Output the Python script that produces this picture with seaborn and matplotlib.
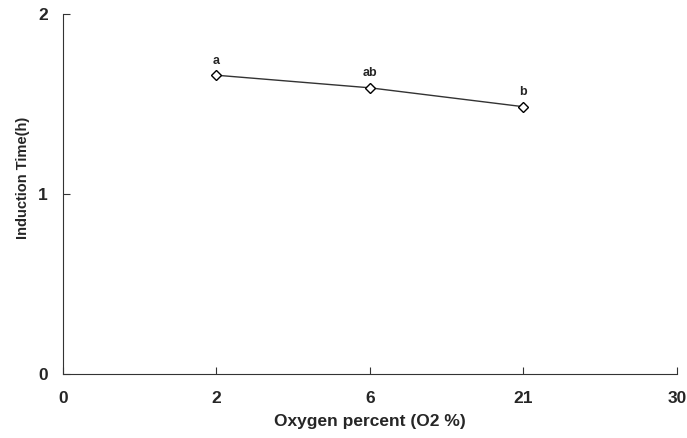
import pandas as pd
import matplotlib.pyplot as plt
import seaborn as sns

# data
tick_labels = ["0", "2", "6", "21", "30"]
oxygen = ["2", "6", "21"]
induction_time = [1.66, 1.59, 1.485]
letters = ["a", "ab", "b"]

sns.set_style("ticks")
plt.rcParams['font.family'] = ['Liberation Sans', 'DejaVu Sans']
plt.rcParams['font.weight'] = 'bold'

pos = [tick_labels.index(o) for o in oxygen]
df = pd.DataFrame({"pos": pos, "time": induction_time, "letter": letters})

fig = plt.figure(figsize=(6.87, 4.38), dpi=100)
ax = fig.add_axes([0.0917, 0.146, 0.8937, 0.822])

sns.lineplot(data=df, x="pos", y="time", ax=ax, color="#333333", linewidth=1,
             marker="D", markersize=5, markerfacecolor="white",
             markeredgecolor="black", markeredgewidth=1)

for _, r in df.iterrows():
    ax.annotate(r["letter"], (r["pos"], r["time"]), xytext=(0, 6),
                textcoords="offset points", ha="center", va="bottom",
                fontsize=9, fontweight="bold")

ax.set_xlim(0, 4)
ax.set_ylim(0, 2)
ax.set_xticks(range(len(tick_labels)))
ax.set_xticklabels(tick_labels)
ax.set_yticks([0, 1, 2])
ax.tick_params(direction="in", length=5, width=0.8, labelsize=12.5, color="#333333")
ax.tick_params(axis="x", pad=12)
ax.tick_params(axis="y", pad=11)
for lab in ax.get_xticklabels() + ax.get_yticklabels():
    lab.set_fontweight("bold")

ax.set_xlabel("Oxygen percent (O2 %)", fontsize=12.5, fontweight="bold", labelpad=6)
ax.set_ylabel("Induction Time(h)", fontsize=10.5, fontweight="bold")
ax.yaxis.set_label_coords(-0.053, 0.545)

sns.despine(ax=ax)
for s in ["left", "bottom"]:
    ax.spines[s].set_color("#333333")
    ax.spines[s].set_linewidth(0.8)

fig.savefig("out.png", dpi=100)
